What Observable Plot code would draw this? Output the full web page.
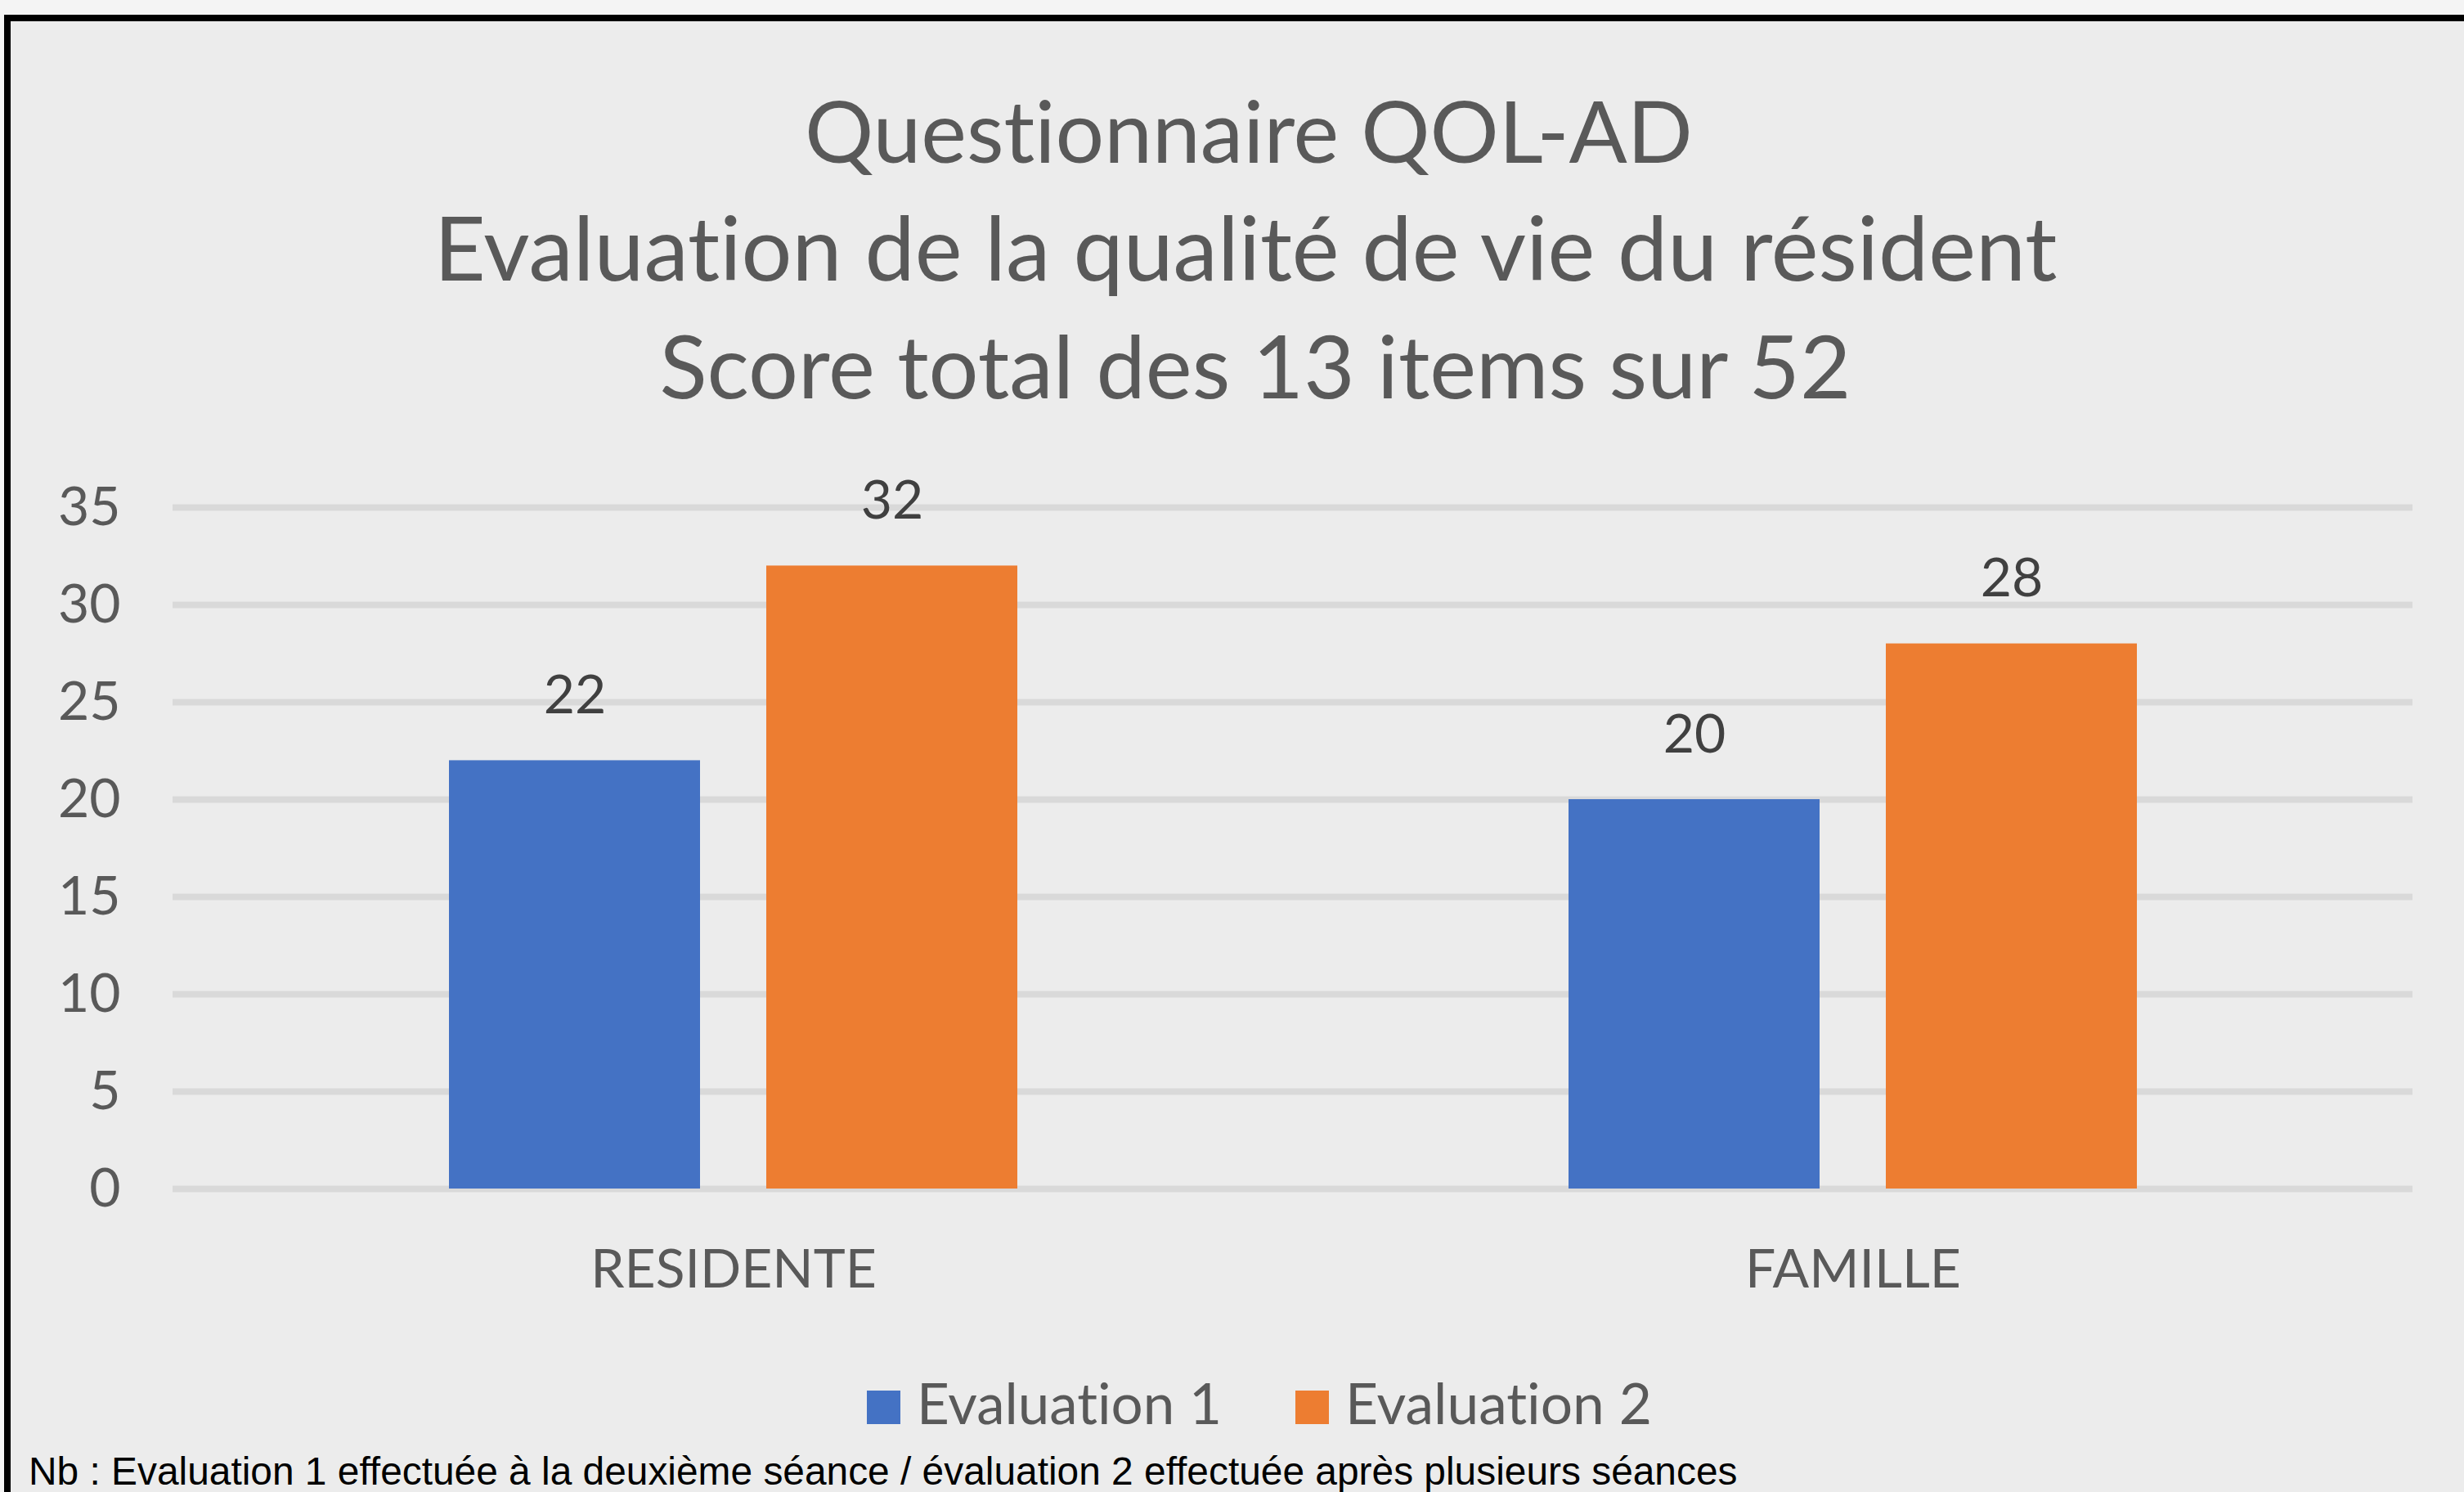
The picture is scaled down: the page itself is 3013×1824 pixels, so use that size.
<!DOCTYPE html>
<html>
<head>
<meta charset="utf-8">
<script src="https://cdn.jsdelivr.net/npm/d3@7"></script>
<script src="https://cdn.jsdelivr.net/npm/@observablehq/plot@0.6"></script>
<style>
  html, body { margin: 0; padding: 0; background: #f4f4f4; width: 3013px; height: 1824px; overflow: hidden; }
  * { font-variant-ligatures: none; font-feature-settings: "liga" 0, "clig" 0; }
  #frame { position: absolute; left: 5px; top: 18px; width: 3008px; height: 1806px; box-sizing: border-box;
           border-top: 8px solid #000; border-left: 8px solid #000; background: #ececec; }
  #chart { position: absolute; left: 0; top: 0; }
  .t { position: absolute; white-space: nowrap; line-height: 1; margin: 0; left: 0; top: 0; }
  .sq { position: absolute; width: 41px; height: 41px; }
</style>
</head>
<body>
<div id="frame"></div>
<div id="chart"></div>
<script>
// ---- data ----
const categories = ["RESIDENTE", "FAMILLE"];
const seriesNames = ["Evaluation 1", "Evaluation 2"];
const evaluation1 = [22, 20];
const evaluation2 = [32, 28];
const yTicks = [0, 5, 10, 15, 20, 25, 30, 35];
const seriesColors = ["#4472c4", "#ed7d31"];
const titleLines = [
  "Questionnaire QOL-AD",
  "Evaluation de la qualité de vie du résident",
  "Score total des 13 items sur 52"
];
const captionText = "Nb : Evaluation 1 effectuée à la deuxième séance / évaluation 2 effectuée après plusieurs séances";

// ---- table ----
const rows = categories.flatMap((c, i) => [
  {category: c, series: seriesNames[0], value: evaluation1[i]},
  {category: c, series: seriesNames[1], value: evaluation2[i]}
]);
const s1 = rows.filter(d => d.series === seriesNames[0]);
const s2 = rows.filter(d => d.series === seriesNames[1]);

const FONT = "Lato, 'Open Sans', sans-serif";

const chart = Plot.plot({
  width: 3013,
  height: 1620,
  marginTop: 620,
  marginBottom: 167,
  marginLeft: 211,
  marginRight: 63,
  style: {background: "transparent", fontFamily: FONT, fontSize: "66px", color: "#595959", overflow: "visible"},
  x: {domain: categories, paddingInner: 0.4925, paddingOuter: 0.24625, label: null, tickSize: 0, tickPadding: 74},
  y: {domain: [0, 35], ticks: yTicks, label: null, tickSize: 0, tickPadding: 64},
  color: {domain: seriesNames, range: seriesColors},
  marks: [
    Plot.ruleY(yTicks, {stroke: "#d9d9d9", strokeWidth: 8}),
    Plot.barY(s1, {x: "category", y: "value", fill: "series", insetRight: 388}),
    Plot.barY(s2, {x: "category", y: "value", fill: "series", insetLeft: 388}),
    Plot.text(s1, {x: "category", y: "value", text: d => String(d.value), dx: -194, dy: -79, lineAnchor: "middle", fill: "#404040", fontSize: 66}),
    Plot.text(s2, {x: "category", y: "value", text: d => String(d.value), dx: 194, dy: -79, lineAnchor: "middle", fill: "#404040", fontSize: 66})
  ]
});
document.getElementById("chart").appendChild(chart);

// ---- HTML text helpers ----
function place(text, o) {
  const el = document.createElement("div");
  el.className = "t";
  el.style.fontFamily = o.font;
  el.style.fontSize = o.size + "px";
  el.style.color = o.color;
  el.appendChild(document.createTextNode(text));
  const mk = document.createElement("span");
  mk.style.cssText = "display:inline-block;width:0;height:0;vertical-align:baseline";
  el.appendChild(mk);
  document.body.appendChild(el);
  let size = o.size;
  if (o.width) {
    const w0 = el.getBoundingClientRect().width;
    size = size * o.width / w0;
    el.style.fontSize = size + "px";
  }
  const r = el.getBoundingClientRect();
  const b = mk.getBoundingClientRect().top - r.top;
  el.style.top = (o.baseline - b) + "px";
  el.style.left = (o.center != null ? o.center - r.width / 2 : o.left) + "px";
  return {size, width: r.width};
}

// title
const titleBaselines = [199, 343, 487];
const titleWidths = [1086, 1985, 1457];
const titleCenters = [1527, 1523, 1535];
titleLines.forEach((t, i) => place(t, {font: FONT, size: 108, color: "#595959", baseline: titleBaselines[i], center: titleCenters[i], width: titleWidths[i]}));

// legend
let lx = 1060;
const legendWidths = [373, 375];
seriesNames.forEach((name, i) => {
  const sq = document.createElement("div");
  sq.className = "sq";
  sq.style.background = seriesColors[i];
  sq.style.left = lx + "px";
  sq.style.top = "1700px";
  document.body.appendChild(sq);
  const r = place(name, {font: FONT, size: 68, color: "#595959", baseline: 1741, left: lx + 61, width: legendWidths[i]});
  lx = lx + 61 + r.width + 90;
});

// caption
place(captionText, {font: "'Liberation Sans', Arial, sans-serif", size: 42, color: "#000", baseline: 1815, left: 35, width: 2090});
</script>
</body>
</html>
